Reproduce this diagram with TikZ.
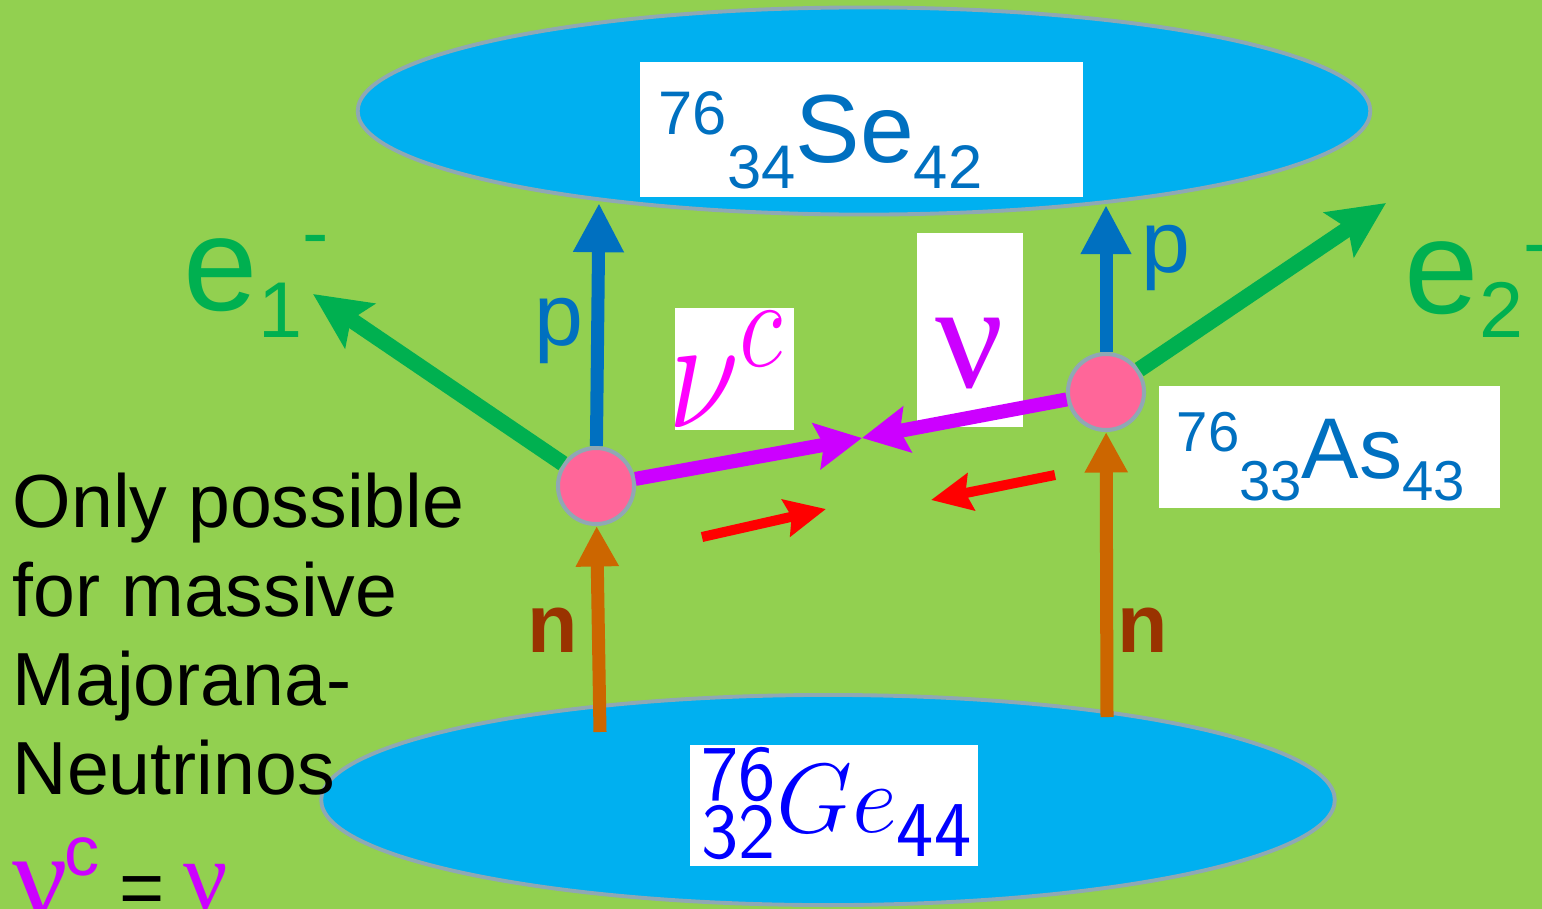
\RequirePackage{fix-cm}
\documentclass[tikz,border=0pt]{standalone}
\usepackage[no-math]{fontspec}
\setmainfont{Liberation Sans}
\newfontfamily\timesf{Liberation Serif}
\usetikzlibrary{arrows.meta,shapes.geometric}
\definecolor{bg}{HTML}{92D050}
\definecolor{nuccyan}{HTML}{00B0F0}
\definecolor{rimgray}{HTML}{8FA8B4}
\definecolor{vpink}{HTML}{FF6699}
\definecolor{egreen}{HTML}{00B050}
\definecolor{pblue}{HTML}{0070C0}
\definecolor{norange}{HTML}{CC6600}
\definecolor{nbrown}{HTML}{993300}
\definecolor{nuviolet}{HTML}{CC00FF}
\definecolor{numag}{HTML}{FF00FF}
\definecolor{redarr}{HTML}{FF0000}
\definecolor{geblue}{HTML}{0000FF}
\newcommand\fsz[1]{\fontsize{#1}{#1}\selectfont}
\begin{document}
\begin{tikzpicture}[x=0.01cm,y=-0.01cm,
  nucl/.style={ellipse, draw=rimgray, line width=1.1pt, fill=nuccyan, inner sep=0pt},
  whitebox/.style={fill=white, draw=none, inner sep=0pt},
  txt/.style={inner sep=0pt, anchor=base west},
  vertex/.style={circle, fill=vpink, draw=rimgray, line width=1.15pt, minimum size=0.76cm, inner sep=0pt},
  earrow/.style={draw=egreen, line width=4.5pt, -{Stealth[length=16pt,width=15pt,inset=3pt]}},
  parrow/.style={draw=pblue, line width=3.7pt, -{Triangle[length=14pt,width=13.5pt]}},
  narrow/.style={draw=norange, line width=3.7pt, -{Triangle[length=11.5pt,width=11.5pt]}},
  nuarrow/.style={draw=nuviolet, line width=4pt, -{Stealth[length=13pt,width=13pt,inset=2pt]}},
  redarrow/.style={draw=redarr, line width=2.85pt, -{Stealth[length=11.5pt,width=10.5pt,inset=1.5pt]}}
]
\useasboundingbox (0,0) rectangle (1542,909);
\clip (0,0) rectangle (1542,909);
\fill[bg] (0,0) rectangle (1542,909);

% nuclei
\node[nucl, minimum width=10.12cm, minimum height=2.07cm] (se) at (864,111) {};
\node[nucl, minimum width=10.13cm, minimum height=2.1cm] (ge) at (828,800) {};

% white boxes
\node[whitebox, minimum width=4.43cm, minimum height=1.35cm] (sebox) at (861.5,129.5) {};
\node[whitebox, minimum width=3.41cm, minimum height=1.22cm] (asbox) at (1329.5,447) {};
\node[whitebox, minimum width=2.88cm, minimum height=1.21cm] (gebox) at (834,805.5) {};
\node[whitebox, minimum width=1.19cm, minimum height=1.22cm] (nucbox) at (734.5,369) {};
\node[whitebox, minimum width=1.06cm, minimum height=1.94cm] (nubox) at (970,330) {};

% nucleus labels
\node[txt, text=pblue] (setext) at (658,162) {\fsz{27.5}\raisebox{7.7pt}{\fsz{17.5}76}\raisebox{-7.4pt}{\fsz{17.5}34}Se\raisebox{-7.4pt}{\fsz{17.5}42}};
\node[txt, text=pblue] (astext) at (1176,478) {\fsz{24.5}\raisebox{7.4pt}{\fsz{16}76}\raisebox{-6.3pt}{\fsz{16}33}As\raisebox{-6.3pt}{\fsz{16}43}};
\node[txt, text=geblue] (getext) at (701,832) {\fsz{28}\rlap{\raisebox{9.1pt}{\fsz{22.5}$\mathsf{76}$}}\raisebox{-7.4pt}{\fsz{22.5}$\mathsf{32}$}$Ge$\raisebox{-7.1pt}{\fsz{22.5}$\mathsf{44}$}};

% neutrino labels
\node[txt, text=numag] (nuclab) at (668,427) {\scalebox{1}[1.25]{\fsz{37}$\nu$\raisebox{13.7pt}{\fsz{29}$c$}}};
\node[txt, text=nuviolet] (nulab) at (935,387) {\timesf\fsz{43}ν};

% particle labels
\node[txt, text=egreen] (e1lab) at (183,310) {\fsz{38}e\raisebox{-7.7pt}{\fsz{22.5}1}\raisebox{14.5pt}{\fsz{22.5}-}};
\node[txt, text=egreen] (e2lab) at (1404,313) {\fsz{38}e\raisebox{-7.1pt}{\fsz{22.5}2}\raisebox{12.5pt}{\fsz{22.5}-}};
\node[txt, text=pblue] (p1lab) at (534,345) {\fsz{25}p};
\node[txt, text=pblue] (p2lab) at (1141,272) {\fsz{25}p};
\node[txt, text=nbrown] (n1lab) at (527,652) {\fsz{23.5}\bfseries n};
\node[txt, text=nbrown] (n2lab) at (1117,652) {\fsz{23.5}\bfseries n};

% side text
\node[txt] (l1) at (12,527) {\fsz{21.4}Only possible};
\node[txt] (l2) at (12,616) {\fsz{21.4}for massive};
\node[txt] (l3) at (12,705) {\fsz{21.4}Majorana-};
\node[txt] (l4) at (12,794) {\fsz{21.4}Neutrinos};
\node[txt, text=nuviolet] (eqnu1) at (12,918) {\timesf\fsz{35}ν};
\node[txt, text=nuviolet] (eqc) at (64,875) {\fsz{20}c};
\node[txt] (eqsign) at (119,914) {\fsz{22}=};
\node[txt, text=nuviolet] (eqnu2) at (183,909) {\timesf\fsz{28}ν};

% vertices
\node[vertex] (vl) at (596,486) {};
\node[vertex] (vr) at (1106,392) {};

% free ends
\coordinate (e1tip) at (313,294);
\coordinate (p1tip) at (599,203);
\coordinate (n1foot) at (600,732);
\coordinate (meet) at (862,438);
\coordinate (e2tip) at (1386,203);
\coordinate (p2tip) at (1106,205);
\coordinate (n2foot) at (1107,717);
\coordinate (r1a) at (702,537);
\coordinate (r1b) at (826,509);
\coordinate (r2a) at (1055,475);
\coordinate (r2b) at (931,500);

% connectors
\draw[earrow] (vl) -- (e1tip);
\draw[parrow] (vl) -- (p1tip);
\draw[narrow] (n1foot) -- (vl);
\draw[nuarrow] (vl) -- (meet);
\draw[nuarrow] (vr) -- (meet);
\draw[earrow] (vr) -- (e2tip);
\draw[parrow] (vr) -- (p2tip);
\draw[narrow] (n2foot) -- (vr);
\draw[redarrow] (r1a) -- (r1b);
\draw[redarrow] (r2a) -- (r2b);
\end{tikzpicture}
\end{document}
